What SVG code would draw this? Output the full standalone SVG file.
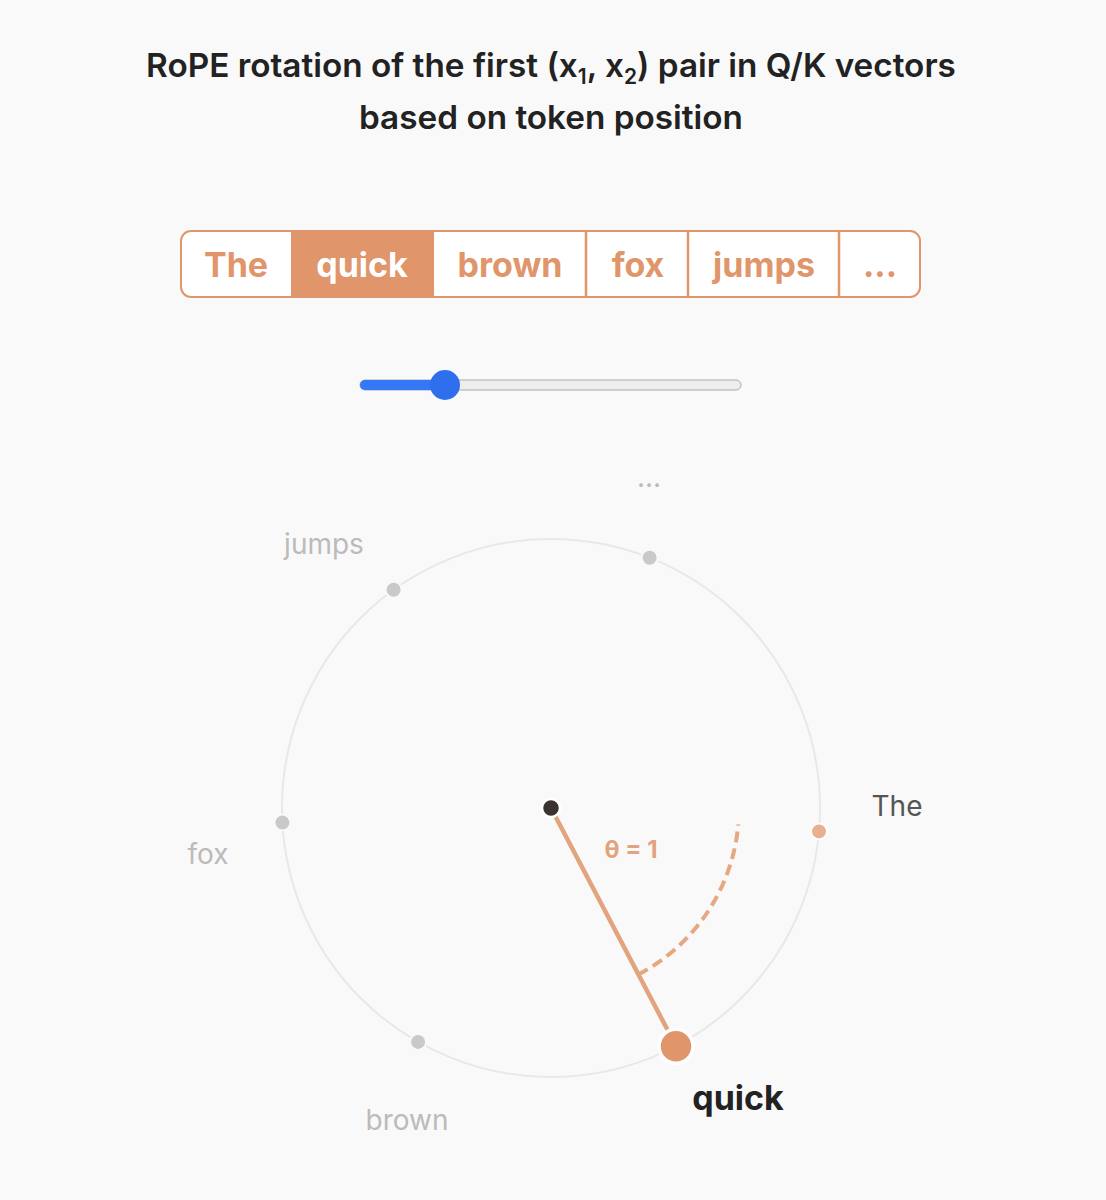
<svg xmlns="http://www.w3.org/2000/svg" width="1106" height="1200" viewBox="0 0 1106 1200">
<style>
.title{font-family:Inter,"Noto Sans","Liberation Sans",sans-serif;font-weight:600;font-size:33.3px;fill:#222;text-anchor:middle}
.tok{font-family:Inter,"Noto Sans","Liberation Sans",sans-serif;font-weight:700;font-size:34px;fill:#e0956a;text-anchor:middle}
.tokSel{fill:#ffffff}
.lbl{font-family:Inter,"Noto Sans","Liberation Sans",sans-serif;font-size:28px;fill:#bbbbbb;text-anchor:middle}
.dot{fill:#c9c9c9;stroke:#f9f9f9;stroke-width:2}
</style>
<rect width="1106" height="1200" fill="#f9f9f9"/>
<g id="title">
<text class="title" x="551" y="77">RoPE rotation of the first (x<tspan font-size="21" dy="7">1</tspan><tspan dy="-7">, x</tspan><tspan font-size="21" dy="7">2</tspan><tspan dy="-7">) pair in Q/K vectors</tspan></text>
<text class="title" x="551" y="129">based on token position</text>
</g>
<g id="token-bar">
<rect x="181" y="231" width="739" height="66" rx="10" fill="#fff" stroke="#e0956a" stroke-width="2"/>
<rect x="291" y="231" width="143" height="66" fill="#e0956a"/>
<g stroke="#e0956a" stroke-width="2.5">
<line x1="586" y1="231" x2="586" y2="297"/>
<line x1="688" y1="231" x2="688" y2="297"/>
<line x1="839" y1="231" x2="839" y2="297"/>
</g>
<text class="tok" x="236" y="277">The</text>
<text class="tok tokSel" x="362" y="277">quick</text>
<text class="tok" x="510" y="277">brown</text>
<text class="tok" x="638" y="277">fox</text>
<text class="tok" x="764" y="277">jumps</text>
<text class="tok" x="880" y="277">...</text>
</g>
<g id="slider">
<rect x="360" y="380" width="381" height="10" rx="5" fill="#eeeeee" stroke="#aaaaaa" stroke-width="1"/>
<rect x="360" y="380" width="86" height="10" rx="5" fill="#3478f6"/>
<circle cx="445" cy="385" r="15" fill="#2f6fed"/>
</g>
<g id="circle">
<circle cx="551" cy="808" r="269" fill="none" stroke="#e8e8e8" stroke-width="2"/>
</g>
<g id="connectors">
<path d="M638.1 974.6 A188 188 0 0 0 738.3 824.4" fill="none" stroke="#e6a882" stroke-width="4" stroke-dasharray="11 6"/>
<line x1="551" y1="808" x2="676" y2="1046" stroke="#e2a47e" stroke-width="4.5"/>
</g>
<g id="node-center"><circle cx="551" cy="808" r="9" fill="#3a3330" stroke="#fff" stroke-width="2.5"/></g>
<g id="node-The">
<circle cx="819" cy="831.4" r="8" fill="#e8b090" stroke="#fff" stroke-width="2"/>
<text class="lbl" x="897" y="816" style="fill:#555">The</text>
</g>
<g id="node-quick">
<circle cx="676" cy="1046.2" r="17" fill="#e0956a" stroke="#fff" stroke-width="3.5"/>
<text x="738" y="1110" font-family="Inter,'Noto Sans','Liberation Sans',sans-serif" font-weight="700" font-size="34" fill="#222" text-anchor="middle">quick</text>
</g>
<g id="node-brown">
<circle class="dot" cx="418.1" cy="1041.9" r="8"/>
<text class="lbl" x="407" y="1130">brown</text>
</g>
<g id="node-fox">
<circle class="dot" cx="282.4" cy="822.6" r="8"/>
<text class="lbl" x="208" y="864">fox</text>
</g>
<g id="node-jumps">
<circle class="dot" cx="393.6" cy="589.8" r="8"/>
<text class="lbl" x="324" y="554">jumps</text>
</g>
<g id="node-more">
<circle class="dot" cx="649.6" cy="557.7" r="8"/>
<text class="lbl" x="649" y="487">...</text>
</g>
<g id="theta-label">
<text x="631" y="858" font-family="Inter,'Noto Sans','Liberation Sans',sans-serif" font-weight="700" font-size="24" fill="#e2a47e" text-anchor="middle">θ = 1</text>
</g>
</svg>
